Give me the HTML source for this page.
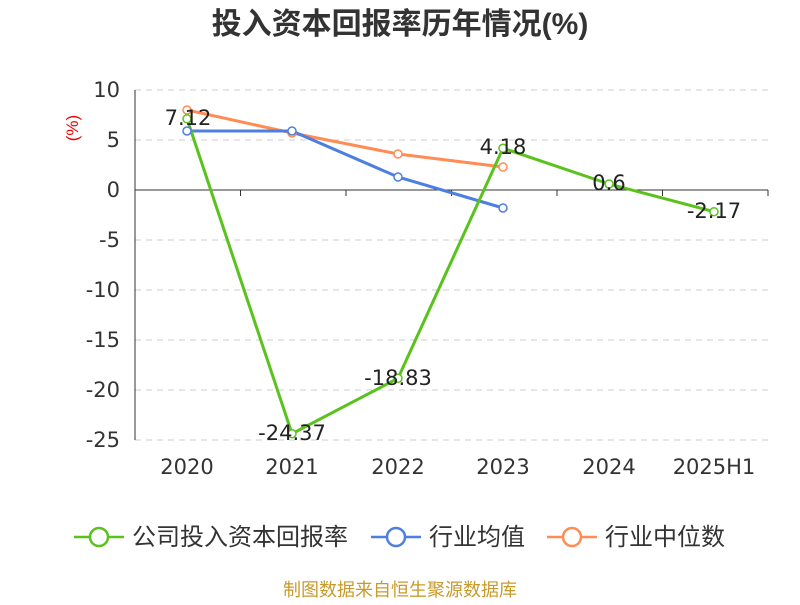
<!DOCTYPE html>
<html><head><meta charset="utf-8"><style>
body{margin:0;background:#fff;}
svg text{font-family:"Liberation Sans","Noto Sans CJK SC",sans-serif;}
svg text.n{font-family:"DejaVu Sans",sans-serif;}
</style></head><body>
<svg width="800" height="600" xmlns="http://www.w3.org/2000/svg">
<rect width="800" height="600" fill="#fff"/>
<text x="400" y="34" text-anchor="middle" font-size="30" font-weight="bold" fill="#333">投入资本回报率历年情况(%)</text>
<text x="78" y="128" font-size="17" fill="#e00" transform="rotate(-90 78 128)" text-anchor="middle">(%)</text>
<g stroke="#ccc" stroke-dasharray="6,5" stroke-width="1">
<line x1="135" y1="90" x2="768" y2="90"/><line x1="135" y1="140" x2="768" y2="140"/>
<line x1="135" y1="240" x2="768" y2="240"/><line x1="135" y1="290" x2="768" y2="290"/>
<line x1="135" y1="340" x2="768" y2="340"/><line x1="135" y1="390" x2="768" y2="390"/>
<line x1="135" y1="440" x2="768" y2="440"/>
</g>
<line x1="135" y1="90" x2="135" y2="440" stroke="#333"/>
<line x1="135" y1="190" x2="768" y2="190" stroke="#333"/>
<g stroke="#333">
<line x1="135" y1="190" x2="135" y2="196"/><line x1="240.5" y1="190" x2="240.5" y2="196"/>
<line x1="346" y1="190" x2="346" y2="196"/><line x1="451.5" y1="190" x2="451.5" y2="196"/>
<line x1="557" y1="190" x2="557" y2="196"/><line x1="662.5" y1="190" x2="662.5" y2="196"/>
<line x1="768" y1="190" x2="768" y2="196"/>
</g>
<g font-size="21" fill="#333" text-anchor="end">
<text class="n" x="120" y="97">10</text><text class="n" x="120" y="147">5</text><text class="n" x="120" y="197">0</text>
<text class="n" x="120" y="247">-5</text><text class="n" x="120" y="297">-10</text><text class="n" x="120" y="347">-15</text>
<text class="n" x="120" y="397">-20</text><text class="n" x="120" y="447">-25</text>
</g>
<g font-size="21" fill="#333" text-anchor="middle">
<text class="n" x="187" y="474">2020</text><text class="n" x="292" y="474">2021</text><text class="n" x="398" y="474">2022</text>
<text class="n" x="503" y="474">2023</text><text class="n" x="609" y="474">2024</text><text class="n" x="714" y="474">2025H1</text>
</g>
<polyline fill="none" stroke="#ff8c55" stroke-width="3" points="187,110 292,133 398,154 503,167"/>
<polyline fill="none" stroke="#4d7fe0" stroke-width="3" points="187,131 292,131 398,177 503,208"/>
<polyline fill="none" stroke="#5ac21d" stroke-width="3" points="187,118.8 292,433.7 398,378.3 503,148.2 609,184 714,211.7"/>
<g fill="#fff" stroke-width="1.5">
<g stroke="#ff8c55"><circle cx="187" cy="110" r="4"/><circle cx="292" cy="133" r="4"/><circle cx="398" cy="154" r="4"/><circle cx="503" cy="167" r="4"/></g>
<g stroke="#4d7fe0"><circle cx="187" cy="131" r="4"/><circle cx="292" cy="131" r="4"/><circle cx="398" cy="177" r="4"/><circle cx="503" cy="208" r="4"/></g>
<g stroke="#5ac21d"><circle cx="187" cy="118.8" r="4"/><circle cx="292" cy="433.7" r="4"/><circle cx="398" cy="378.3" r="4"/><circle cx="503" cy="148.2" r="4"/><circle cx="609" cy="184" r="4"/><circle cx="714" cy="211.7" r="4"/></g>
</g>
<g font-size="21" fill="#222" text-anchor="middle">
<text class="n" x="188" y="125">7.12</text><text class="n" x="292" y="440">-24.37</text><text class="n" x="398" y="385">-18.83</text>
<text class="n" x="503" y="154">4.18</text><text class="n" x="609" y="190">0.6</text><text class="n" x="714" y="218">-2.17</text>
</g>
<g stroke-width="2.5" fill="#fff">
<line x1="74" y1="537" x2="124" y2="537" stroke="#5ac21d"/><circle cx="99" cy="537" r="9" stroke="#5ac21d"/>
<line x1="371" y1="537" x2="421" y2="537" stroke="#4d7fe0"/><circle cx="396" cy="537" r="9" stroke="#4d7fe0"/>
<line x1="547" y1="537" x2="597" y2="537" stroke="#ff8c55"/><circle cx="572" cy="537" r="9" stroke="#ff8c55"/>
</g>
<g font-size="24" fill="#333">
<text x="132" y="545">公司投入资本回报率</text><text x="429" y="545">行业均值</text><text x="605" y="545">行业中位数</text>
</g>
<text x="400" y="596" text-anchor="middle" font-size="18" fill="#c89a2a">制图数据来自恒生聚源数据库</text>
</svg>
</body></html>
